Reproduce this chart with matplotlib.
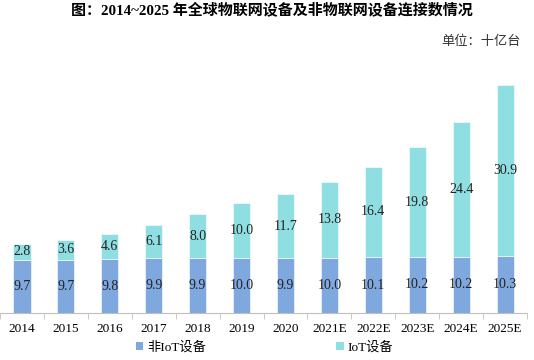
import matplotlib.pyplot as plt
import numpy as np
from matplotlib.patches import Patch

plt.rcParams["font.family"] = ["Liberation Serif", "Noto Sans CJK SC"]

years = ["2014", "2015", "2016", "2017", "2018", "2019", "2020",
         "2021E", "2022E", "2023E", "2024E", "2025E"]
non_iot = [9.7, 9.7, 9.8, 9.9, 9.9, 10.0, 9.9, 10.0, 10.1, 10.2, 10.2, 10.3]
iot = [2.8, 3.6, 4.6, 6.1, 8.0, 10.0, 11.7, 13.8, 16.4, 19.8, 24.4, 30.9]

BLUE = "#7EA8DE"
CYAN = "#8EDEE2"

fig = plt.figure(figsize=(5.34, 3.6), dpi=100)
ax = fig.add_axes([0.0, 0.13, 0.987, 0.65])

x = np.arange(len(years))
w = 0.39
ax.bar(x, non_iot, width=w, color=BLUE, edgecolor="white", linewidth=0.4)
ax.bar(x, iot, width=w, bottom=non_iot, color=CYAN, edgecolor="white", linewidth=0.4)

# value labels in the middle of each segment
for xi, a, b in zip(x, non_iot, iot):
    ax.text(xi, a / 2, f"{a:.1f}", ha="center", va="center", fontsize=10, color="#222222")
    ax.text(xi, a + b / 2, f"{b:.1f}", ha="center", va="center", fontsize=10, color="#222222")

ax.set_xlim(-0.5, len(years) - 0.5)
ax.set_ylim(0, 42.3)
for s in ["top", "right", "left"]:
    ax.spines[s].set_visible(False)
ax.spines["bottom"].set_color("#BFBFBF")
ax.set_yticks([])
ax.set_xticks(x)
ax.set_xticklabels(years, fontsize=9.5)
ax.set_xticks(np.arange(-0.5, len(years)), minor=True)
ax.tick_params(axis="x", which="major", length=0, pad=7)
ax.tick_params(axis="x", which="minor", length=4, color="#BFBFBF")

fig.text(0.51, 0.972, "图：2014~2025 年全球物联网设备及非物联网设备连接数情况",
         ha="center", va="center", fontsize=10.8, fontweight="bold")
fig.text(0.975, 0.885, "单位：十亿台", ha="right", va="center", fontsize=9.5, color="#333333")

handles = [Patch(facecolor=BLUE, label="非IoT设备"), Patch(facecolor=CYAN, label="IoT设备")]
fig.legend(handles=handles, loc="center", bbox_to_anchor=(0.495, 0.035), ncol=2,
           frameon=False, fontsize=9.5, handlelength=0.6, handleheight=0.6,
           handletextpad=0.3, columnspacing=9.8)

fig.savefig("out.png", dpi=100)
